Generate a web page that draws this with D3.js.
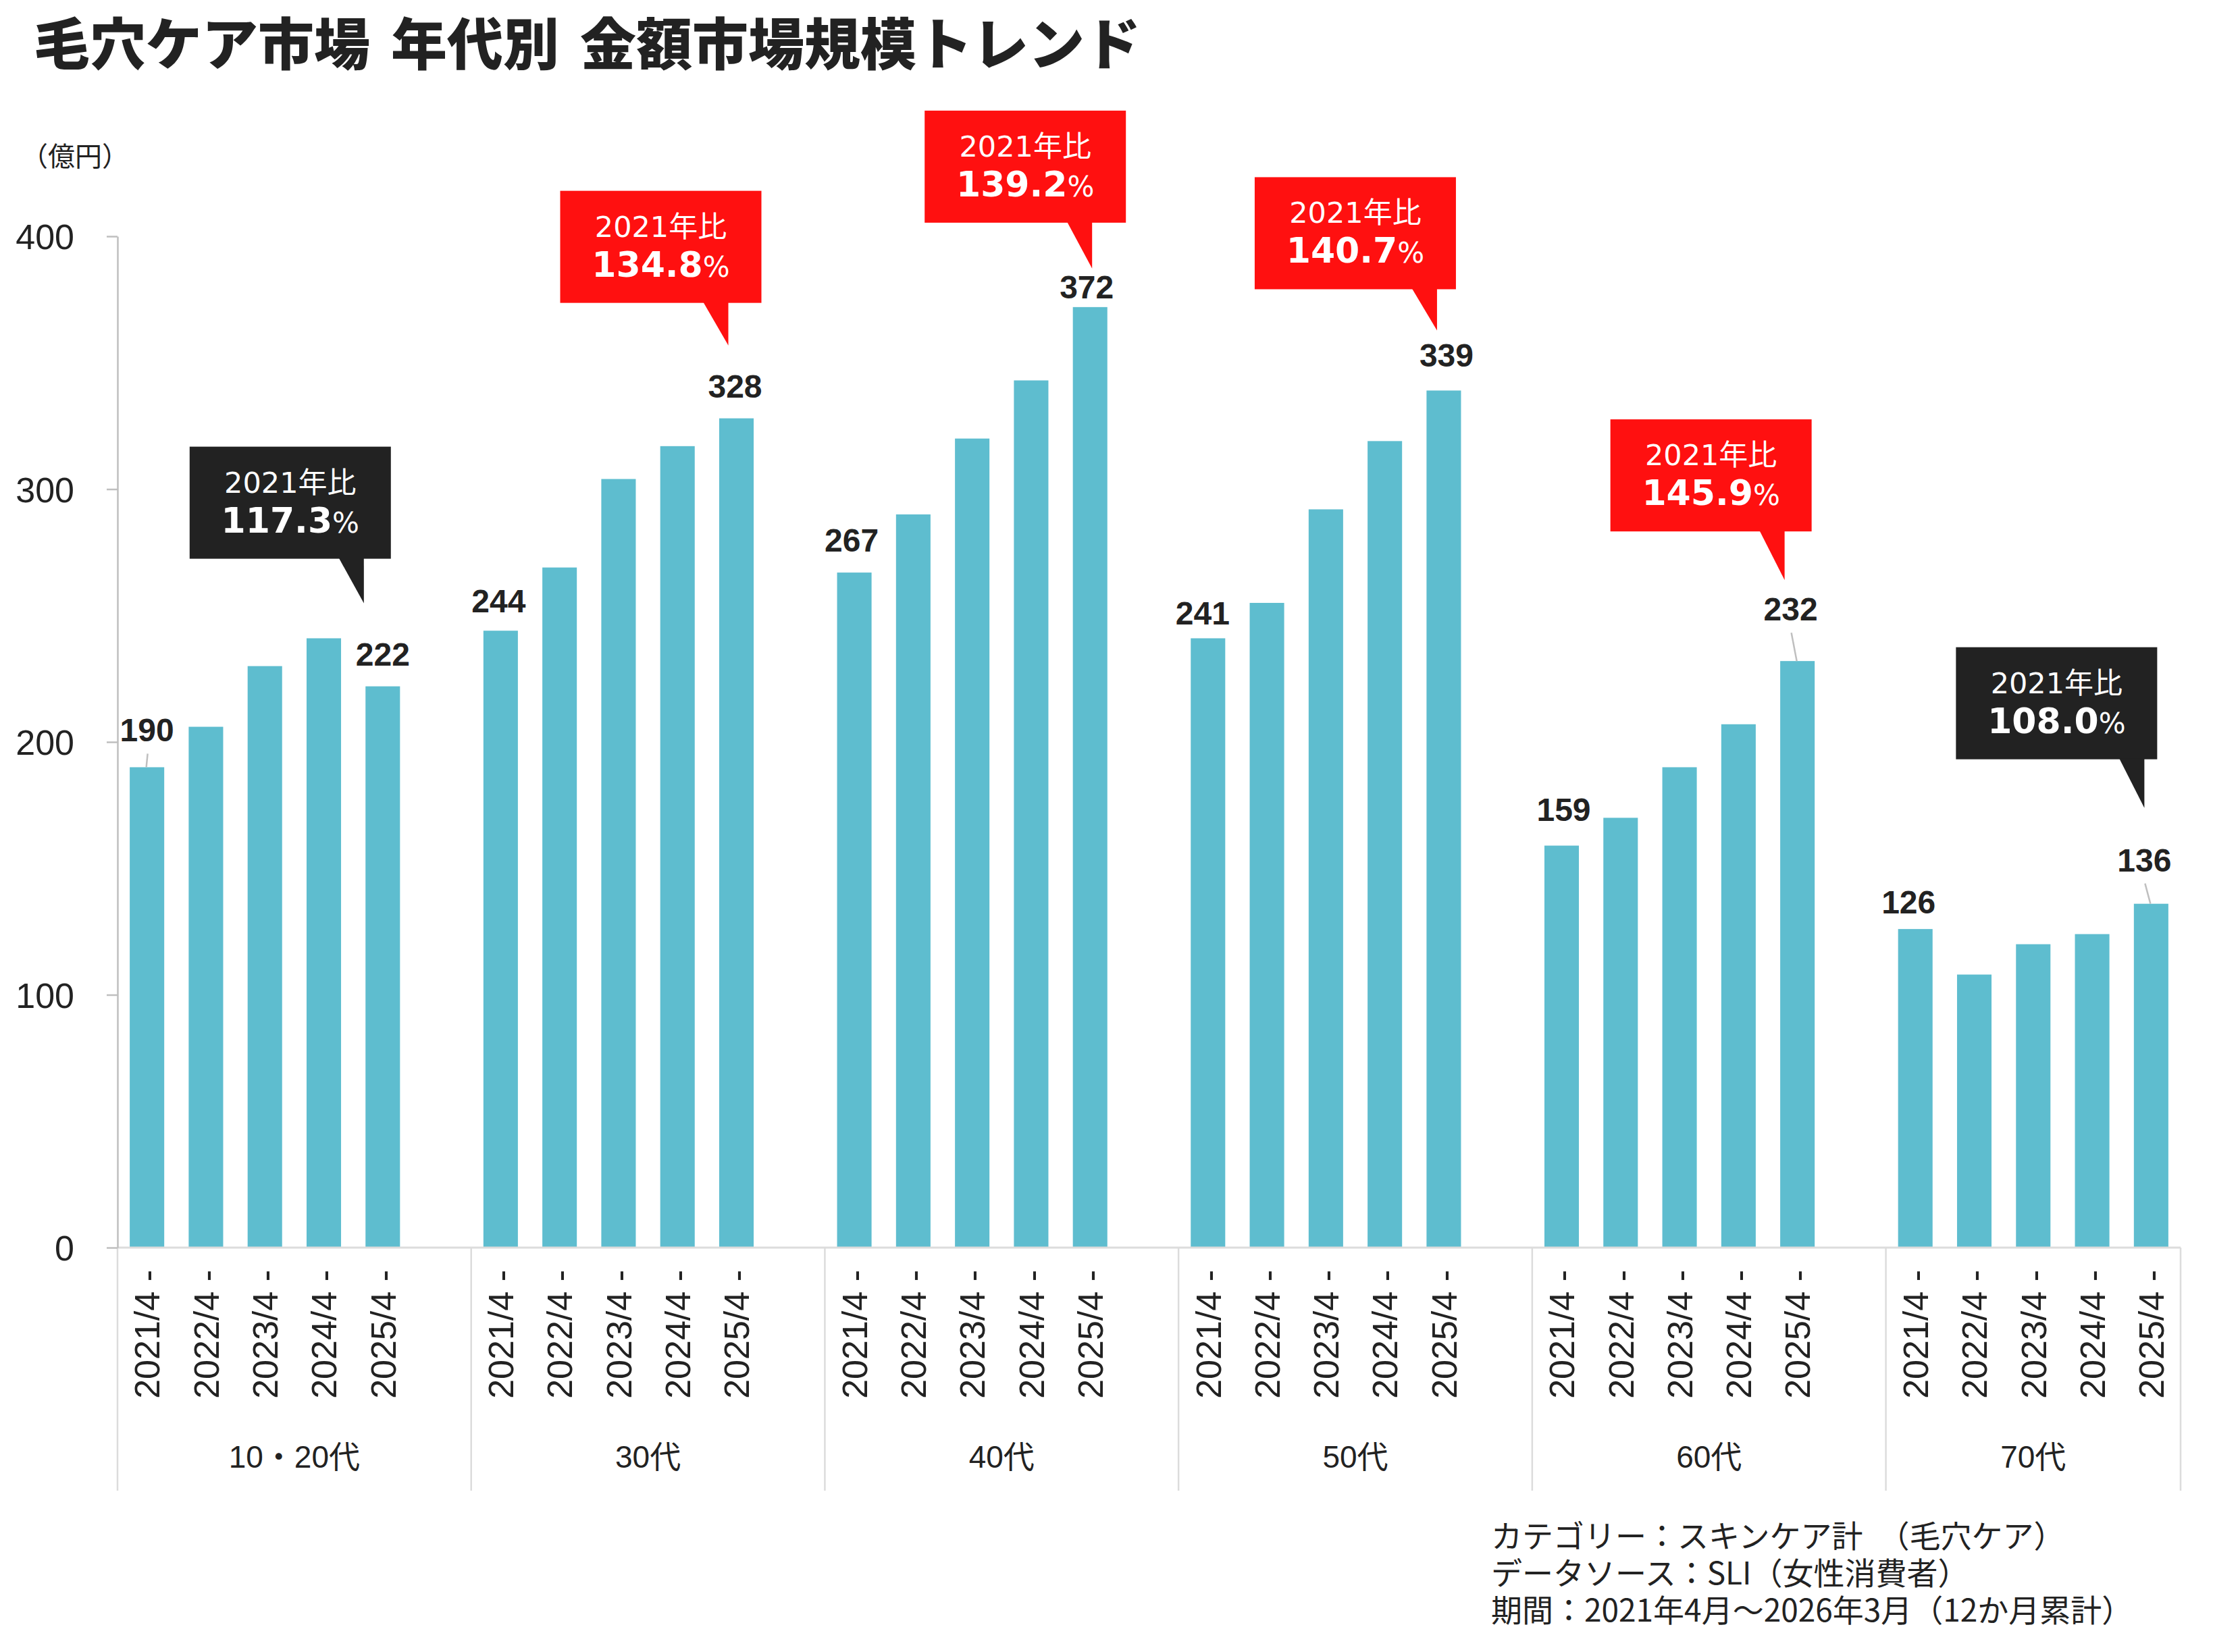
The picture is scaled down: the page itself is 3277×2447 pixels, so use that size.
<!DOCTYPE html>
<html><head><meta charset="utf-8">
<script src="https://cdn.jsdelivr.net/npm/d3@7"></script>
<style>body{margin:0;background:#fff} svg{display:block}</style>
</head><body><svg id="chart" width="3277" height="2447"></svg>
<script>
// ---------------- data ----------------
const ageGroups = ["10・20代", "30代", "40代", "50代", "60代", "70代"];
const periods = ["2021/4 -", "2022/4 -", "2023/4 -", "2024/4 -", "2025/4 -"];
const sales1020 = [190, 206, 230, 241, 222];
const sales30 = [244, 269, 304, 317, 328];
const sales40 = [267, 290, 320, 343, 372];
const sales50 = [241, 255, 292, 319, 339];
const sales60 = [159, 170, 190, 207, 232];
const sales70 = [126, 108, 120, 124, 136];
const yTickValues = [0, 100, 200, 300, 400];
const ratioVs2021 = ["117.3", "134.8", "139.2", "140.7", "145.9", "108.0"];
const titleText = "毛穴ケア市場 年代別 金額市場規模トレンド";
const unitText = "（億円）";
const footnotes = ["カテゴリー：スキンケア計　（毛穴ケア）", "データソース：SLI（女性消費者）", "期間：2021年4月～2026年3月（12か月累計）"];

const seriesByGroup = [sales1020, sales30, sales40, sales50, sales60, sales70];

// ---------------- layout (not data) ----------------
const W = 3277, H = 2447;
const plotLeft = 174, plotRight = 3229, plotTop = 350, plotBottom = 1848;
const barColor = "#5ebdcf";
const textColor = "#222222";
const gridGrey = "#dcdcdc";
const axisGrey = "#bfbfbf";
const numFont = "'Liberation Sans', Arial, 'Noto Sans CJK JP', sans-serif";
const wideFont = "'DejaVu Sans', Verdana, 'Noto Sans CJK JP', sans-serif";
const jpFont = "'Noto Sans CJK JP', 'Liberation Sans', sans-serif";

// value label placement for first / last bar of each group
const labelLayout = [
  [{dx: 0, gap: 38, leader: true}, {dx: 0, gap: 31}],
  [{dx: -3, gap: 27}, {dx: -2, gap: 31}],
  [{dx: -4, gap: 31}, {dx: -5, gap: 13}],
  [{dx: -8, gap: 20}, {dx: 4, gap: 35}],
  [{dx: 3, gap: 37}, {dx: -10, gap: 60, leader: true}],
  [{dx: -10, gap: 23}, {dx: -10, gap: 48, leader: true}]
];
// callout placement relative to the last bar of each group
const calloutLayout = [
  {boxDx: -137, tipDx: -28, tipGap: 123, tipLen: 66},
  {boxDx: -112, tipDx: -12, tipGap: 108, tipLen: 63},
  {boxDx: -96, tipDx: 3, tipGap: 57, tipLen: 68},
  {boxDx: -131, tipDx: -10, tipGap: 89, tipLen: 61},
  {boxDx: -128, tipDx: -19, tipGap: 120, tipLen: 72},
  {boxDx: -140, tipDx: -10, tipGap: 142, tipLen: 72}
];
const boxW = 298, boxH = 166;

// ---------------- build ----------------
const svg = d3.select("#chart");
svg.append("rect").attr("width", W).attr("height", H).attr("fill", "#fff");

// slots: 5 periods per group + 1 spacer between groups
const slots = [];
const bars = [];
ageGroups.forEach((g, gi) => {
  periods.forEach((p, pi) => {
    const key = g + "|" + p;
    slots.push(key);
    bars.push({key, group: g, gi, pi, period: p, value: seriesByGroup[gi][pi]});
  });
  if (gi < ageGroups.length - 1) slots.push(g + "|gap");
});

const x = d3.scaleBand().domain(slots).range([plotLeft, plotRight]).padding(0);
const y = d3.scaleLinear().domain([0, 400]).range([plotBottom, plotTop]);
const barW = x.step() * 0.585;
const cx = key => x(key) + x.bandwidth() / 2;

// title
svg.append("text")
  .attr("x", 50).attr("y", 96)
  .attr("font-family", jpFont).attr("font-weight", 900).attr("font-size", 83)
  .attr("word-spacing", 12)
  .attr("fill", textColor).text(titleText);

// unit
svg.append("text")
  .attr("x", 31).attr("y", 246)
  .attr("font-family", jpFont).attr("font-size", 40)
  .attr("fill", textColor).text(unitText);

// group dividers below the baseline
const groupStarts = ageGroups.map((g) => x(g + "|" + periods[0]));
const dividerXs = groupStarts.concat([plotRight]);
svg.append("g").selectAll("line").data(dividerXs).join("line")
  .attr("x1", d => d).attr("x2", d => d)
  .attr("y1", plotBottom).attr("y2", 2208)
  .attr("stroke", gridGrey).attr("stroke-width", 2.5);

// bars
svg.append("g").selectAll("rect").data(bars).join("rect")
  .attr("x", d => cx(d.key) - barW / 2)
  .attr("width", barW)
  .attr("y", d => y(d.value))
  .attr("height", d => y(0) - y(d.value))
  .attr("fill", barColor);

// baseline
svg.append("line")
  .attr("x1", plotLeft).attr("x2", plotRight)
  .attr("y1", plotBottom).attr("y2", plotBottom)
  .attr("stroke", gridGrey).attr("stroke-width", 3);

// y axis
const yAxis = svg.append("g")
  .attr("transform", `translate(${plotLeft},0)`)
  .call(d3.axisLeft(y).tickValues(yTickValues).tickSize(16).tickSizeOuter(0).tickPadding(48));
yAxis.select(".domain").attr("stroke", axisGrey).attr("stroke-width", 2.5);
yAxis.selectAll(".tick line").attr("stroke", axisGrey).attr("stroke-width", 2.5);
yAxis.selectAll(".tick text")
  .attr("font-family", numFont).attr("font-size", 52).attr("fill", textColor)
  .attr("dy", "0.36em");

// x axis (period labels, rotated)
const xAxis = svg.append("g")
  .attr("transform", `translate(0,${plotBottom})`)
  .call(d3.axisBottom(x).tickSize(0).tickFormat(k => k.endsWith("|gap") ? "" : k.split("|")[1]));
xAxis.select(".domain").remove();
xAxis.selectAll(".tick text")
  .attr("font-family", numFont).attr("font-size", 52).attr("fill", textColor)
  .attr("transform", "rotate(-90)")
  .attr("text-anchor", "end")
  .attr("x", -33).attr("y", 0).attr("dy", "0.36em");

// group labels
svg.append("g").selectAll("text").data(ageGroups).join("text")
  .attr("x", (g, gi) => (dividerXs[gi] + dividerXs[gi + 1]) / 2)
  .attr("y", 2174)
  .attr("text-anchor", "middle")
  .attr("font-family", numFont).attr("font-size", 46).attr("fill", textColor)
  .text(g => g);

// value labels on first and last bar
const labelled = [];
ageGroups.forEach((g, gi) => {
  [0, 4].forEach((pi, li) => {
    const b = bars.find(d => d.gi === gi && d.pi === pi);
    labelled.push({b, lay: labelLayout[gi][li]});
  });
});
const lblG = svg.append("g");
labelled.forEach(({b, lay}) => {
  const bx = cx(b.key), top = y(b.value);
  const lx = bx + lay.dx, ly = top - lay.gap;
  lblG.append("text")
    .attr("x", lx).attr("y", ly)
    .attr("text-anchor", "middle")
    .attr("font-family", numFont).attr("font-weight", "bold").attr("font-size", 48)
    .attr("fill", textColor).text(b.value);
  if (lay.leader) {
    lblG.append("line")
      .attr("x1", lx + 1).attr("y1", ly + 18)
      .attr("x2", bx - 1).attr("y2", top)
      .attr("stroke", axisGrey).attr("stroke-width", 2.5);
  }
});

// callouts
const callG = svg.append("g");
ageGroups.forEach((g, gi) => {
  const b = bars.find(d => d.gi === gi && d.pi === 4);
  const lay = calloutLayout[gi];
  const bx = cx(b.key), top = y(b.value);
  const ratio = +ratioVs2021[gi];
  const fill = ratio >= 130 ? "#ff1010" : "#222222";
  const tipX = bx + lay.tipDx, tipY = top - lay.tipGap;
  const boxBottom = tipY - lay.tipLen, boxTop = boxBottom - boxH;
  const boxCx = bx + lay.boxDx;
  callG.append("rect")
    .attr("x", boxCx - boxW / 2).attr("y", boxTop)
    .attr("width", boxW).attr("height", boxH).attr("fill", fill);
  callG.append("path")
    .attr("d", `M${tipX - 37},${boxBottom - 1} L${tipX},${boxBottom - 1} L${tipX},${tipY} Z`)
    .attr("fill", fill);
  callG.append("text")
    .attr("x", boxCx).attr("y", boxTop + 68)
    .attr("text-anchor", "middle")
    .attr("font-family", wideFont).attr("font-size", 43).attr("fill", "#fff")
    .text("2021年比");
  const t = callG.append("text")
    .attr("x", boxCx).attr("y", boxTop + 127)
    .attr("text-anchor", "middle")
    .attr("font-family", wideFont).attr("fill", "#fff");
  t.append("tspan").attr("font-weight", "bold").attr("font-size", 52).text(ratioVs2021[gi]);
  t.append("tspan").attr("font-size", 42).text("%");
});

// footnotes (one text block, one line per entry)
const foot = svg.append("text")
  .attr("x", 2208).attr("y", 2292)
  .attr("font-family", jpFont).attr("font-size", 46).attr("fill", textColor);
foot.selectAll("tspan").data(footnotes).join("tspan")
  .attr("x", 2208)
  .attr("dy", (d, i) => i === 0 ? 0 : 55)
  .text(d => d);
</script>
</body></html>
